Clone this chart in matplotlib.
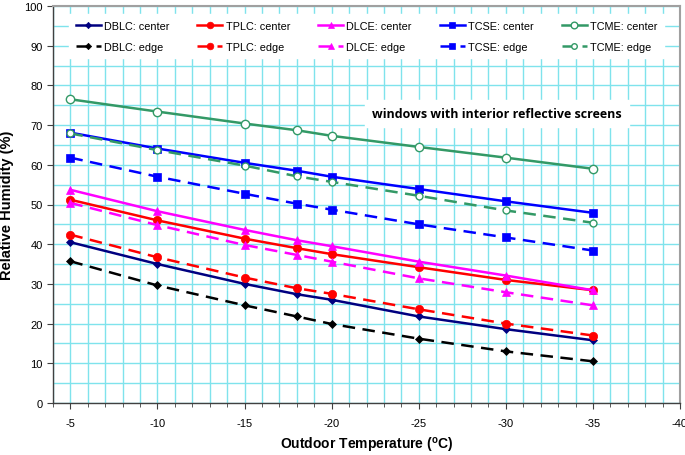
import matplotlib
matplotlib.use("Agg")
import matplotlib.pyplot as plt
from matplotlib.ticker import MultipleLocator

temps = [-5, -10, -15, -18, -20, -25, -30, -35]

dblc_center = [40.5, 35.0, 30.0, 27.4, 26.0, 21.8, 18.6, 15.8]
tplc_center = [51.2, 46.0, 41.4, 39.0, 37.5, 34.2, 31.0, 28.4]
dlce_center = [53.7, 48.3, 43.6, 41.0, 39.5, 35.6, 32.1, 28.4]
tcse_center = [68.1, 64.1, 60.5, 58.5, 57.0, 53.9, 50.8, 47.9]
tcme_center = [76.5, 73.4, 70.4, 68.7, 67.3, 64.5, 61.8, 59.0]

dblc_edge = [35.7, 29.6, 24.6, 21.8, 19.9, 16.2, 13.0, 10.5]
tplc_edge = [42.4, 36.7, 31.6, 28.9, 27.5, 23.6, 20.0, 17.0]
dlce_edge = [50.4, 44.8, 39.8, 37.3, 35.6, 31.4, 27.9, 24.6]
tcse_edge = [61.8, 57.0, 52.7, 50.2, 48.7, 45.0, 41.7, 38.4]
tcme_edge = [67.9, 63.7, 59.8, 57.1, 55.7, 52.2, 48.5, 45.4]

labels_center = ["DBLC: center", "TPLC: center", "DLCE: center", "TCSE: center", "TCME: center"]
labels_edge = ["DBLC: edge", "TPLC: edge", "DLCE: edge", "TCSE: edge", "TCME: edge"]
x_ticks = [-5, -10, -15, -20, -25, -30, -35, -40]
y_ticks = [0, 10, 20, 30, 40, 50, 60, 70, 80, 90, 100]
annotation = "windows with interior reflective screens"

plt.rcParams['font.family'] = ['Liberation Sans', 'DejaVu Sans']

fig = plt.figure(figsize=(6.85, 4.56), dpi=100)
ax = fig.add_axes([53/685, 1 - 404/456, (680 - 53)/685, (404 - 7)/456])

grid_c = "#7fe3ec"
ax.xaxis.set_minor_locator(MultipleLocator(1))
ax.yaxis.set_minor_locator(MultipleLocator(5))
ax.grid(which="both", axis="both", color=grid_c, linewidth=1.0, zorder=0)
ax.set_axisbelow(True)

centers = [dblc_center, tplc_center, dlce_center, tcse_center, tcme_center]
edges = [dblc_edge, tplc_edge, dlce_edge, tcse_edge, tcme_edge]
c_colors = ["#000080", "#ff0000", "#ff00ff", "#0000ff", "#339966"]
e_colors = ["#000000", "#ff0000", "#ff00ff", "#0000ff", "#339966"]
markers = ["D", "o", "^", "s", "o"]
c_ms = [4, 6, 6, 6, 6]
e_ms = [4, 6, 6, 6, 5]

c_handles = []
e_handles = []
for i in range(5):
    mfc = "white" if i == 4 else c_colors[i]
    h, = ax.plot(temps, centers[i], color=c_colors[i], marker=markers[i], ms=c_ms[i],
                 mfc=mfc, mec=c_colors[i], mew=1 if i == 4 else 0.5,
                 lw=1.8, label=labels_center[i], zorder=3)
    c_handles.append(h)
for i in range(5):
    mfc = "white" if i == 4 else e_colors[i]
    h, = ax.plot(temps, edges[i], color=e_colors[i], marker=markers[i], ms=e_ms[i],
                 mfc=mfc, mec=e_colors[i], mew=1 if i == 4 else 0.5,
                 lw=1.8, ls=(0, (5, 3)), label=labels_edge[i], zorder=3)
    e_handles.append(h)

handles = []
for i in range(5):
    handles.append(c_handles[i])
    handles.append(e_handles[i])

ax.set_xlim(-4, -40)
ax.set_ylim(0, 100)
ax.set_xticks(x_ticks)
ax.set_xticklabels([str(v) for v in x_ticks])
ax.set_yticks(y_ticks)
ax.tick_params(axis="both", which="major", labelsize=8, length=4, direction="out", color="#404040")
ax.tick_params(axis="x", which="minor", length=3, direction="out", color="#404040")
ax.tick_params(axis="y", which="minor", length=0)
ax.tick_params(axis="x", pad=7)

for s in ["left", "bottom"]:
    ax.spines[s].set_color("#404040")
    ax.spines[s].set_linewidth(1.0)
for s in ["top", "right"]:
    ax.spines[s].set_color("#a0a0a0")
    ax.spines[s].set_linewidth(1.5)

ax.set_xlabel("Outdoor Temperature ($^{\\mathregular{o}}$C)", fontsize=10, fontweight="bold", labelpad=5)
ax.set_ylabel("Relative Humidity (%)", fontsize=10.5, fontweight="bold", labelpad=7)

leg = ax.legend(handles=handles, ncol=5, loc="upper center", bbox_to_anchor=(0.5, 0.993),
                fontsize=7.8, frameon=True, fancybox=False, edgecolor="white", facecolor="white",
                framealpha=1, handlelength=2.3, handletextpad=0.3, columnspacing=2.6,
                labelspacing=1.0, borderpad=0.6, markerscale=0.8)
leg.set_zorder(5)

ax.text(-29.5, 72.8, annotation, fontsize=9, fontweight="bold", family=["Open Sans", "DejaVu Sans"],
        ha="center", va="center", zorder=6,
        bbox=dict(facecolor="white", edgecolor="white", pad=5))

fig.savefig("out.png", dpi=100)
